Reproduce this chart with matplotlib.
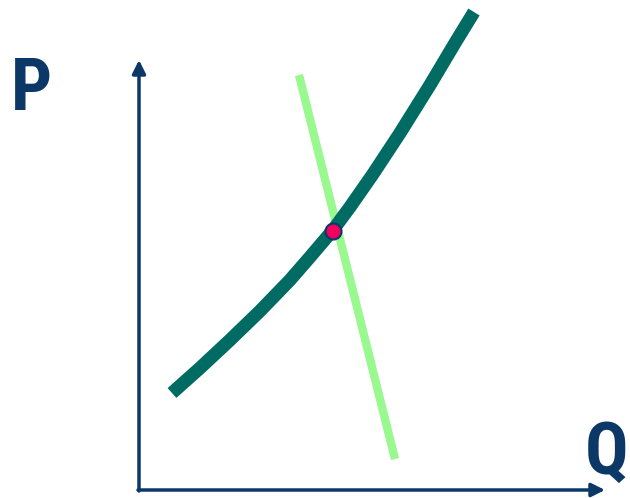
# Supply / demand style sketch: steep demand line crossing a rising curve,
# with the equilibrium point marked

import matplotlib.pyplot as plt

# Data (origin at the axis corner)
curve_q = [33, 61, 91, 121, 151, 171, 194, 211, 234, 261, 291, 316, 335]
curve_p = [97, 122, 150, 179, 210, 233, 260, 283, 316, 357, 405, 447, 478]

line_q = [160, 256]
line_p = [415, 31]

eq_q = [194]
eq_p = [259]

navy = "#0b3866"

fig = plt.figure(figsize=(6.3, 4.98), dpi=100)
ax = fig.add_axes([0, 0, 1, 1])
ax.set_xlim(-139, 491)
ax.set_ylim(-8, 490)
ax.axis("off")

# Axes with arrows
ax.annotate("", xy=(466, 0), xytext=(-1, 0),
            arrowprops=dict(arrowstyle="-|>", color=navy, lw=2.5,
                            mutation_scale=20, shrinkA=0, shrinkB=0))
ax.annotate("", xy=(0, 430), xytext=(0, -1),
            arrowprops=dict(arrowstyle="-|>", color=navy, lw=2.5,
                            mutation_scale=20, shrinkA=0, shrinkB=0))

# Curves
ax.plot(line_q, line_p, color="#99f98f", lw=6, solid_capstyle="butt")
ax.plot(curve_q, curve_p, color="#006b63", lw=9.5, solid_capstyle="butt",
        solid_joinstyle="round")

# Equilibrium point
ax.plot(eq_q, eq_p, "o", color="#f2005e", markersize=11.5,
        markeredgecolor=navy, markeredgewidth=1.5)

# Axis letters (narrow bold face if one is installed)
font = ["Liberation Sans Narrow", "Roboto Condensed", "Open Sans Condensed",
        "DejaVu Sans"]
ax.text(-108, 400, "P", family=font, fontstretch="condensed",
        fontweight="bold", fontsize=52, color=navy, ha="center", va="center")
ax.text(489, 36, "Q", family=font, fontstretch="condensed",
        fontweight="bold", fontsize=52, color=navy, ha="right", va="center")

plt.savefig("out.png", dpi=100)
